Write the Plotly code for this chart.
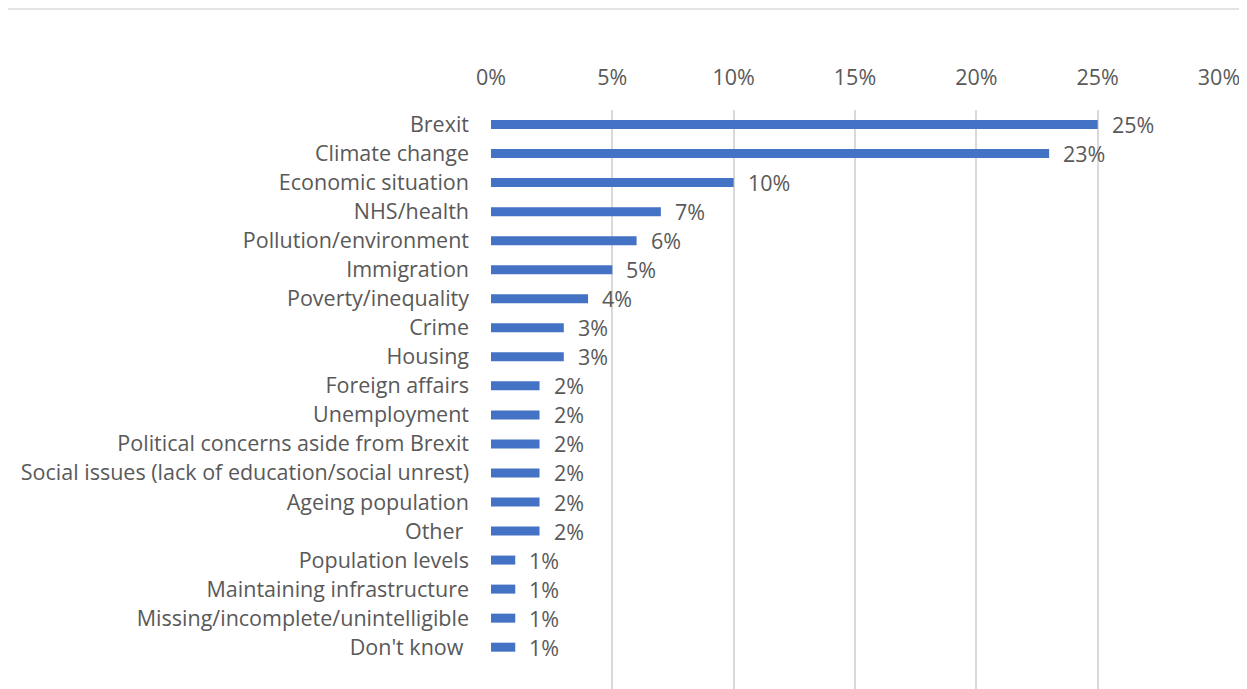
import plotly.graph_objects as go

categories = [
    "Brexit", "Climate change", "Economic situation", "NHS/health",
    "Pollution/environment", "Immigration", "Poverty/inequality", "Crime",
    "Housing", "Foreign affairs", "Unemployment",
    "Political concerns aside from Brexit",
    "Social issues (lack of education/social unrest)", "Ageing population",
    "Other ", "Population levels", "Maintaining infrastructure",
    "Missing/incomplete/unintelligible", "Don't know ",
]
values = [25, 23, 10, 7, 6, 5, 4, 3, 3, 2, 2, 2, 2, 2, 2, 1, 1, 1, 1]
tick_vals = [0, 5, 10, 15, 20, 25, 30]
tick_text = ["0%", "5%", "10%", "15%", "20%", "25%", "30%"]

FONT = "'Open Sans', Lato, sans-serif"
GREY = "#595959"
FS = 21.5

fig = go.Figure(go.Bar(
    x=values, y=categories, orientation="h",
    marker=dict(color="#4472C4", line=dict(width=0)),
    width=0.31, hoverinfo="skip",
))

for c, v in zip(categories, values):
    fig.add_annotation(x=v, y=c, text=f"{v}%", showarrow=False,
                       xanchor="left", yanchor="middle", xshift=12, yshift=0,
                       font=dict(family=FONT, size=FS, color=GREY))

# page has an 8px body margin; figure coords = page coords - 8
W, H = 1239, 681
L, R, T, B = 483, 28, 102, 0
pw, ph = W - L - R, H - T - B
fig.add_shape(type="line", xref="paper", yref="paper",
              x0=-L / pw, x1=(W - L) / pw,
              y0=1 + (T - 1) / ph, y1=1 + (T - 1) / ph,
              line=dict(color="#e3e3e3", width=2))

fig.update_layout(
    width=W, height=H,
    margin=dict(l=L, r=R, t=T, b=B),
    paper_bgcolor="white", plot_bgcolor="white",
    showlegend=False,
    font=dict(family=FONT, size=FS, color=GREY),
    xaxis=dict(side="top", range=[0, 30], tickvals=tick_vals, ticktext=tick_text,
               showgrid=True, gridcolor="#d9d9d9", gridwidth=1.5, zeroline=False,
               showline=False, ticks="", ticklabelstandoff=20,
               tickfont=dict(family=FONT, size=FS, color=GREY), fixedrange=True),
    yaxis=dict(range=[19.44, -0.5], showgrid=False, zeroline=False,
               showline=False, ticks="", ticklabelstandoff=21,
               tickfont=dict(family=FONT, size=FS, color=GREY), fixedrange=True),
)

fig.write_html("out.html")
